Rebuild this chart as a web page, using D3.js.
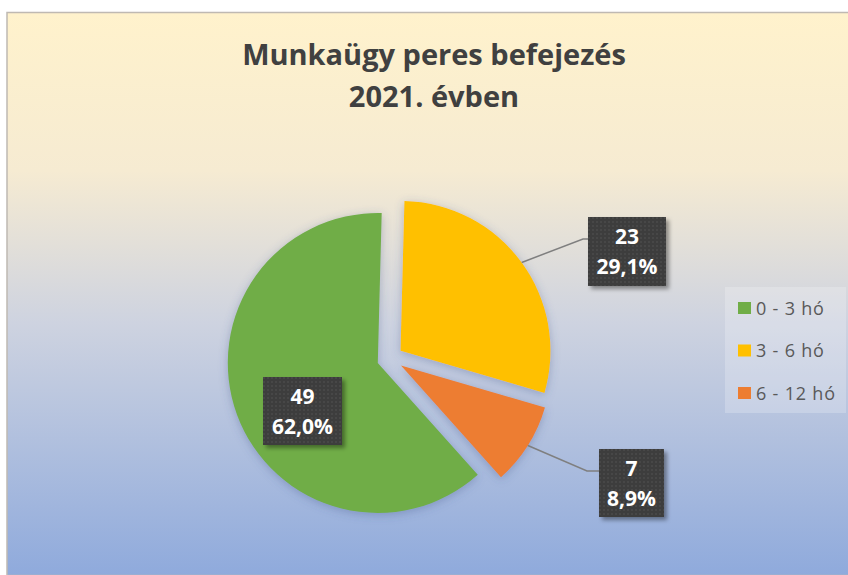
<!DOCTYPE html>
<html>
<head>
<meta charset="utf-8">
<script src="https://cdn.jsdelivr.net/npm/d3@7"></script>
<style>
  body { margin: 0; background: #fff; }
  svg { display: block; }
</style>
</head>
<body>
<script>
// chart data
var categories = ["0 - 3 hó", "3 - 6 hó", "6 - 12 hó"];
var values = [49, 23, 7];
var colors = ["#70AD47", "#FFC000", "#ED7D31"];
var titleLines = ["Munkaügy peres befejezés", "2021. évben"];

var width = 848, height = 575;
var cx = 390, cy = 358.5, radius = 150, explode = 13;

// label boxes: left, top, width, height (layout only)
var boxes = [
  {x: 263, y: 377, w: 79, h: 68},
  {x: 588, y: 217, w: 78, h: 69},
  {x: 599, y: 449, w: 65, h: 68}
];

var font = "'Open Sans', 'DejaVu Sans', sans-serif";

var svg = d3.select("body").append("svg")
    .attr("width", width)
    .attr("height", height);

var defs = svg.append("defs");

var grad = defs.append("linearGradient")
    .attr("id", "bg")
    .attr("x1", 0).attr("y1", 0).attr("x2", 0).attr("y2", 1);
grad.append("stop").attr("offset", "0%").attr("stop-color", "#FFF2CC");
grad.append("stop").attr("offset", "28%").attr("stop-color", "#F6EBD2");
grad.append("stop").attr("offset", "55%").attr("stop-color", "#CED3E0");
grad.append("stop").attr("offset", "100%").attr("stop-color", "#8FAADC");

var pieShadow = defs.append("filter").attr("id", "pieShadow")
    .attr("x", "-20%").attr("y", "-20%").attr("width", "140%").attr("height", "140%");
pieShadow.append("feDropShadow")
    .attr("dx", 0).attr("dy", 2).attr("stdDeviation", 5)
    .attr("flood-color", "#3f5488").attr("flood-opacity", 0.35);

var boxShadow = defs.append("filter").attr("id", "boxShadow")
    .attr("x", "-20%").attr("y", "-20%").attr("width", "150%").attr("height", "150%");
boxShadow.append("feDropShadow")
    .attr("dx", 3).attr("dy", 3).attr("stdDeviation", 2)
    .attr("flood-color", "#000").attr("flood-opacity", 0.4);

var dots = defs.append("pattern").attr("id", "dots")
    .attr("width", 4).attr("height", 4)
    .attr("patternUnits", "userSpaceOnUse");
dots.append("rect").attr("width", 4).attr("height", 4).attr("fill", "#3d3d3d");
dots.append("circle").attr("cx", 1).attr("cy", 1).attr("r", 0.7).attr("fill", "#555");

// chart area
svg.append("rect")
    .attr("x", 7).attr("y", 12.5)
    .attr("width", width - 6).attr("height", height - 12)
    .attr("fill", "url(#bg)")
    .attr("stroke", "#BFB9B2")
    .attr("stroke-width", 1.5);

// title
svg.append("g").selectAll("text")
    .data(titleLines)
  .enter().append("text")
    .attr("x", 434)
    .attr("y", function(d, i) { return 65 + i * 42; })
    .attr("text-anchor", "middle")
    .attr("font-family", font)
    .attr("font-weight", "bold")
    .attr("font-size", 29)
    .attr("fill", "#404040")
    .text(function(d) { return d; });

// pie
var total = d3.sum(values);
var pie = d3.pie().sort(null)
    .startAngle(138.2 * Math.PI / 180)
    .endAngle(138.2 * Math.PI / 180 + 2 * Math.PI);
var arcs = pie(values);
var arc = d3.arc().innerRadius(0).outerRadius(radius);

function offset(d, r) {
  var a = (d.startAngle + d.endAngle) / 2;
  return [Math.sin(a) * r, -Math.cos(a) * r];
}

var pieG = svg.append("g")
    .attr("transform", "translate(" + cx + "," + cy + ")")
    .attr("filter", "url(#pieShadow)");

pieG.selectAll("path")
    .data(arcs)
  .enter().append("path")
    .attr("d", arc)
    .attr("fill", function(d, i) { return colors[i]; })
    .attr("transform", function(d) {
      var o = offset(d, explode);
      return "translate(" + o[0] + "," + o[1] + ")";
    });

// leader lines, only for labels sitting outside the pie
arcs.forEach(function(d, i) {
  var b = boxes[i];
  var bx = b.x + b.w / 2, by = b.y + b.h / 2;
  if (Math.hypot(bx - cx, by - cy) < radius) return;
  var o = offset(d, explode + radius);
  var sx = cx + o[0], sy = cy + o[1];
  var ey = b.y + 22;
  var elbow = b.x - (sy < ey ? 12 : 5);
  svg.append("path")
      .attr("d", d3.line()([[sx, sy], [elbow, ey], [b.x, ey]]))
      .attr("fill", "none")
      .attr("stroke", "#7F7F7F")
      .attr("stroke-width", 1.5);
});

// data labels
var labels = svg.append("g").selectAll("g")
    .data(arcs)
  .enter().append("g")
    .attr("transform", function(d, i) {
      return "translate(" + boxes[i].x + "," + boxes[i].y + ")";
    });

labels.append("rect")
    .attr("width", function(d, i) { return boxes[i].w; })
    .attr("height", function(d, i) { return boxes[i].h; })
    .attr("fill", "url(#dots)")
    .attr("filter", "url(#boxShadow)");

labels.append("text")
    .attr("x", function(d, i) { return boxes[i].w / 2; })
    .attr("y", 27)
    .attr("text-anchor", "middle")
    .attr("font-family", font)
    .attr("font-weight", "bold")
    .attr("font-size", 21)
    .attr("fill", "#fff")
    .text(function(d) { return d.value; });

labels.append("text")
    .attr("x", function(d, i) { return boxes[i].w / 2; })
    .attr("y", 57)
    .attr("text-anchor", "middle")
    .attr("font-family", font)
    .attr("font-weight", "bold")
    .attr("font-size", 21)
    .attr("fill", "#fff")
    .text(function(d) {
      return (d.value / total * 100).toFixed(1).replace(".", ",") + "%";
    });

// legend
var legend = svg.append("g");
legend.append("rect")
    .attr("x", 725).attr("y", 287)
    .attr("width", 121).attr("height", 126)
    .attr("fill", "#fff").attr("fill-opacity", 0.22);

var item = legend.selectAll("g")
    .data(categories)
  .enter().append("g")
    .attr("transform", function(d, i) {
      return "translate(738," + (308 + i * 42.5) + ")";
    });

item.append("rect")
    .attr("x", 0).attr("y", -6)
    .attr("width", 13).attr("height", 12)
    .attr("fill", function(d, i) { return colors[i]; });

item.append("text")
    .attr("x", 18).attr("y", 6.5)
    .attr("font-family", font)
    .attr("font-size", 18)
    .attr("letter-spacing", 0.8)
    .attr("fill", "#595959")
    .text(function(d) { return d; });
</script>
</body>
</html>
